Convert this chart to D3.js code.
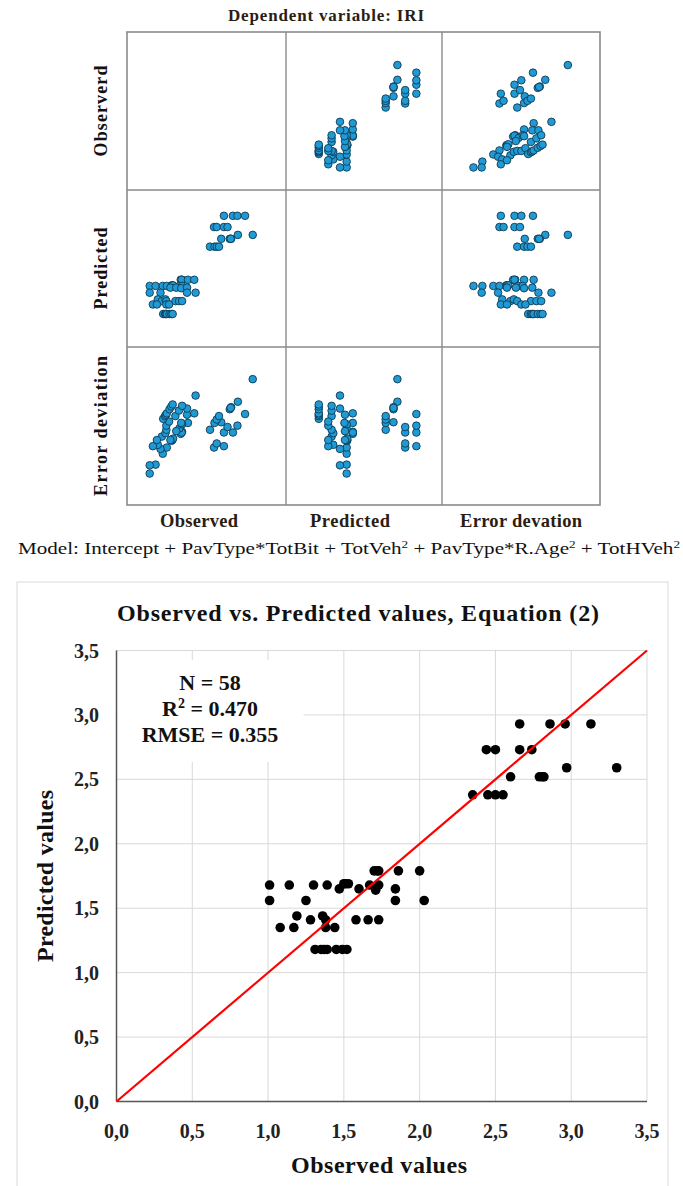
<!DOCTYPE html>
<html>
<head>
<meta charset="utf-8">
<script src="https://cdn.jsdelivr.net/npm/d3@7"></script>
<style>
  body { margin: 0; background: #fff; }
  svg { display: block; font-family: "Liberation Serif", "Times New Roman", serif; }
</style>
</head>
<body>
<svg id="chart" width="683" height="1186"></svg>
<script>
// observed / predicted IRI
const observed = [
  2.66, 2.86, 2.96, 3.13, 2.44, 2.50, 2.66, 2.74, 2.97, 3.30,
  2.60, 2.79, 2.82, 2.81, 2.35, 2.45, 2.50, 2.55,
  1.70, 1.73, 1.72, 1.86, 2.00,
  1.01, 1.14, 1.30, 1.39, 1.50, 1.51, 1.53, 1.67, 1.73,
  1.47, 1.60, 1.71, 1.84,
  1.01, 1.25, 1.84, 2.03,
  1.19, 1.28, 1.36, 1.38, 1.58, 1.66, 1.73,
  1.08, 1.17, 1.38, 1.44,
  1.31, 1.35, 1.37, 1.39, 1.45, 1.49, 1.52
];
const predicted = [
  2.93, 2.93, 2.93, 2.93, 2.73, 2.73, 2.73, 2.73, 2.59, 2.59,
  2.52, 2.52, 2.52, 2.52, 2.38, 2.38, 2.38, 2.38,
  1.79, 1.79, 1.79, 1.79, 1.79,
  1.68, 1.68, 1.68, 1.68, 1.69, 1.69, 1.69, 1.68, 1.68,
  1.65, 1.65, 1.64, 1.65,
  1.56, 1.56, 1.56, 1.56,
  1.44, 1.41, 1.44, 1.41, 1.41, 1.41, 1.41,
  1.35, 1.35, 1.35, 1.35,
  1.18, 1.18, 1.18, 1.18, 1.18, 1.18, 1.18
];
const errorDev = [
  -0.27, -0.07, 0.03, 0.20, -0.29, -0.23, -0.07, 0.01, 0.38, 0.71,
  0.08, 0.27, 0.30, 0.29, -0.03, 0.07, 0.12, 0.17,
  -0.09, -0.06, -0.07, 0.07, 0.21,
  -0.67, -0.54, -0.38, -0.29, -0.19, -0.18, -0.16, -0.01, 0.05,
  -0.18, -0.05, 0.07, 0.19,
  -0.55, -0.31, 0.28, 0.47,
  -0.25, -0.13, -0.08, -0.03, 0.17, 0.25, 0.32,
  -0.27, -0.18, 0.03, 0.09,
  0.13, 0.17, 0.19, 0.21, 0.27, 0.31, 0.34
];

const rowLabels = ["Observerd", "Predicted", "Error deviation"];
const colLabels = ["Observed", "Predicted", "Error devation"];
const axisTicks = [0, 0.5, 1, 1.5, 2, 2.5, 3, 3.5];
const tickLabels = ["0,0", "0,5", "1,0", "1,5", "2,0", "2,5", "3,0", "3,5"];
const statLines = ["N = 58", "R2 = 0.470", "RMSE = 0.355"];

const svg = d3.select("#chart");

// ---------- scatterplot matrix ----------
const colEdges = [127, 286, 442, 600];
const rowEdges = [32, 190, 347, 505];
const vars = [
  { values: observed, domain: [0.505, 4.04] },
  { values: predicted, domain: [0.592, 3.39] },
  { values: errorDev, domain: [-1.13, 1.18] }
];

svg.append("text")
  .attr("x", 326).attr("y", 21)
  .attr("text-anchor", "middle")
  .attr("font-weight", "bold")
  .attr("font-size", 17)
  .attr("textLength", 196)
  .attr("fill", "#2a1d14")
  .text("Dependent variable: IRI");

const matrix = svg.append("g");

vars.forEach((vy, i) => {
  vars.forEach((vx, j) => {
    if (i === j) return;
    const sx = d3.scaleLinear().domain(vx.domain).range([colEdges[j], colEdges[j + 1]]);
    const sy = d3.scaleLinear().domain(vy.domain).range([rowEdges[i + 1], rowEdges[i]]);
    matrix.append("g")
      .selectAll("circle")
      .data(d3.range(observed.length))
      .join("circle")
      .attr("cx", k => sx(vx.values[k]))
      .attr("cy", k => sy(vy.values[k]))
      .attr("r", 3.8)
      .attr("fill", "#1f9ad4")
      .attr("stroke", "#0f3a52")
      .attr("stroke-width", 0.9);
  });
});

// frame and dividers
matrix.append("rect")
  .attr("x", colEdges[0]).attr("y", rowEdges[0])
  .attr("width", colEdges[3] - colEdges[0])
  .attr("height", rowEdges[3] - rowEdges[0])
  .attr("fill", "none")
  .attr("stroke", "#8a8a8a")
  .attr("stroke-width", 1.6);

matrix.selectAll(".vdiv")
  .data([colEdges[1], colEdges[2]])
  .join("line")
  .attr("x1", d => d).attr("x2", d => d)
  .attr("y1", rowEdges[0]).attr("y2", rowEdges[3])
  .attr("stroke", "#8a8a8a").attr("stroke-width", 1.4);

matrix.selectAll(".hdiv")
  .data([rowEdges[1], rowEdges[2]])
  .join("line")
  .attr("x1", colEdges[0]).attr("x2", colEdges[3])
  .attr("y1", d => d).attr("y2", d => d)
  .attr("stroke", "#8a8a8a").attr("stroke-width", 1.4);

const rowLabelLen = [91, 82, 140];
rowLabels.forEach((lab, i) => {
  const cy = (rowEdges[i] + rowEdges[i + 1]) / 2;
  svg.append("text")
    .attr("transform", `translate(107,${cy}) rotate(-90)`)
    .attr("text-anchor", "middle")
    .attr("font-weight", "bold")
    .attr("font-size", 18)
    .attr("fill", "#111")
    .attr("textLength", rowLabelLen[i])
    .text(lab);
});

const colLabelX = [199, 350, 521];
const colLabelLen = [78, 80, 122];
colLabels.forEach((lab, j) => {
  svg.append("text")
    .attr("x", colLabelX[j]).attr("y", 527)
    .attr("text-anchor", "middle")
    .attr("font-weight", "bold")
    .attr("font-size", 18.5)
    .attr("textLength", colLabelLen[j])
    .attr("fill", "#2a1d14")
    .text(lab);
});

// model formula
const model = svg.append("text")
  .attr("x", 18).attr("y", 554)
  .attr("font-size", 16)
  .attr("fill", "#111")
  .attr("textLength", 662)
  .attr("lengthAdjust", "spacingAndGlyphs");
const modelParts = [
  ["Model: Intercept + PavType*TotBit + TotVeh", 0, 16], ["2", -6, 10],
  [" + PavType*R.Age", 6, 16], ["2", -6, 10],
  [" + TotHVeh", 6, 16], ["2", -6, 10]
];
modelParts.forEach(([t, dy, fs]) => {
  model.append("tspan")
    .attr("font-size", fs)
    .attr("dy", dy)
    .text(t);
});

// ---------- observed vs predicted ----------
svg.append("rect")
  .attr("x", 17).attr("y", 582)
  .attr("width", 651).attr("height", 640)
  .attr("fill", "none")
  .attr("stroke", "#d9d9d9");

const x = d3.scaleLinear().domain([0, 3.5]).range([116.5, 647]);
const y = d3.scaleLinear().domain([0, 3.5]).range([1101.5, 650.5]);

const plot = svg.append("g");

plot.append("g")
  .selectAll("line")
  .data(axisTicks.slice(1))
  .join("line")
  .attr("x1", d => x(d)).attr("x2", d => x(d))
  .attr("y1", y(0)).attr("y2", y(3.5))
  .attr("stroke", "#d9d9d9");

plot.append("g")
  .selectAll("line")
  .data(axisTicks.slice(1))
  .join("line")
  .attr("x1", x(0)).attr("x2", x(3.5))
  .attr("y1", d => y(d)).attr("y2", d => y(d))
  .attr("stroke", "#d9d9d9");

// stats box sits over the grid
plot.append("rect")
  .attr("x", x(0) + 1).attr("y", 660)
  .attr("width", 186).attr("height", 102)
  .attr("fill", "#fff");

plot.append("line")
  .attr("x1", x(0)).attr("x2", x(0))
  .attr("y1", y(0)).attr("y2", y(3.5))
  .attr("stroke", "#555").attr("stroke-width", 1.5);
plot.append("line")
  .attr("x1", x(0)).attr("x2", x(3.5))
  .attr("y1", y(0)).attr("y2", y(0))
  .attr("stroke", "#555").attr("stroke-width", 1.5);

plot.append("g")
  .selectAll("text")
  .data(axisTicks)
  .join("text")
  .attr("x", 99)
  .attr("y", d => y(d))
  .attr("dy", "0.35em")
  .attr("text-anchor", "end")
  .attr("font-weight", "bold")
  .attr("font-size", 20)
  .attr("fill", "#222")
  .text((d, i) => tickLabels[i]);

plot.append("g")
  .selectAll("text")
  .data(axisTicks)
  .join("text")
  .attr("x", d => x(d))
  .attr("y", y(0) + 36)
  .attr("text-anchor", "middle")
  .attr("font-weight", "bold")
  .attr("font-size", 20)
  .attr("fill", "#222")
  .text((d, i) => tickLabels[i]);

plot.append("g")
  .selectAll("circle")
  .data(d3.range(observed.length))
  .join("circle")
  .attr("cx", k => x(observed[k]))
  .attr("cy", k => y(predicted[k]))
  .attr("r", 4.8)
  .attr("fill", "#000");

plot.append("line")
  .attr("x1", x(0)).attr("y1", y(0))
  .attr("x2", x(3.5)).attr("y2", y(3.5))
  .attr("stroke", "#ff0000")
  .attr("stroke-width", 2.2);

svg.append("text")
  .attr("x", 358).attr("y", 621)
  .attr("text-anchor", "middle")
  .attr("font-weight", "bold")
  .attr("font-size", 24)
  .attr("textLength", 482)
  .attr("fill", "#111")
  .text("Observed vs. Predicted values, Equation (2)");

const stats = svg.append("g").attr("font-weight", "bold").attr("font-size", 22).attr("fill", "#111");
statLines.forEach((s, i) => {
  const t = stats.append("text")
    .attr("x", 210).attr("y", 690 + i * 26)
    .attr("text-anchor", "middle");
  if (s.startsWith("R2")) {
    t.append("tspan").text("R");
    t.append("tspan").attr("font-size", 14).attr("dy", -8).text("2");
    t.append("tspan").attr("dy", 8).text(" = 0.470");
  } else {
    t.text(s);
  }
});

svg.append("text")
  .attr("x", 379).attr("y", 1173)
  .attr("text-anchor", "middle")
  .attr("font-weight", "bold")
  .attr("font-size", 24)
  .attr("textLength", 176)
  .attr("fill", "#111")
  .text("Observed values");

svg.append("text")
  .attr("transform", `translate(53,${(y(0) + y(3.5)) / 2}) rotate(-90)`)
  .attr("text-anchor", "middle")
  .attr("font-weight", "bold")
  .attr("font-size", 24)
  .attr("textLength", 172)
  .attr("fill", "#111")
  .text("Predicted values");
</script>
</body>
</html>
